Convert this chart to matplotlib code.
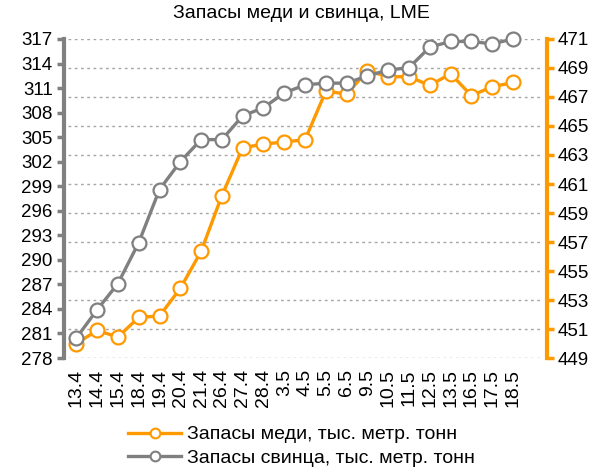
import matplotlib
matplotlib.use('Agg')
import matplotlib.pyplot as plt
from matplotlib.lines import Line2D

plt.rcParams['font.family'] = ['Liberation Sans', 'DejaVu Sans']

# даты (ось X)
dates = ['13.4', '14.4', '15.4', '18.4', '19.4', '20.4', '21.4', '26.4', '27.4', '28.4',
         '3.5', '4.5', '5.5', '6.5', '9.5', '10.5', '11.5', '12.5', '13.5', '16.5',
         '17.5', '18.5']

# запасы меди (правая ось)
copper = [450.0, 450.9, 450.45, 451.8, 451.9, 453.8, 456.35, 460.2, 463.5, 463.75,
          463.9, 464.05, 467.4, 467.2, 468.8, 468.4, 468.4, 467.8, 468.6, 467.1,
          467.7, 468.0]

# запасы свинца (левая ось)
lead = [280.45, 283.9, 287.1, 292.1, 298.6, 302.0, 304.7, 304.7, 307.6, 308.6,
        310.4, 311.4, 311.6, 311.6, 312.5, 313.2, 313.5, 316.0, 316.7, 316.7,
        316.4, 317.0]

left_ticks = list(range(278, 318, 3))
right_ticks = list(range(449, 472, 2))

ORANGE = '#FF9900'
GRAY = '#808080'

fig = plt.figure(figsize=(6.03, 4.68), dpi=100)
ax1 = fig.add_axes([0.1128, 0.235, 0.7827, 0.6817])
ax2 = ax1.twinx()
ax1.set_zorder(ax2.get_zorder() + 1)
ax1.patch.set_visible(False)

x = list(range(len(dates)))

ax2.plot(x, copper, color=ORANGE, lw=2.4, marker='o', ms=10, mfc='white',
         mec=ORANGE, mew=1.6, zorder=3, clip_on=False)
ax1.plot(x, lead, color=GRAY, lw=2.4, marker='o', ms=10, mfc='white',
         mec=GRAY, mew=1.6, zorder=3, clip_on=False)

ax1.set_xlim(-0.4, 22.3)
ax1.set_ylim(278, 317)
ax2.set_ylim(449, 471)
ax1.set_yticks(left_ticks)
ax2.set_yticks(right_ticks)
ax1.set_xticks(x)
ax1.set_xticklabels(dates, rotation=90, fontsize=14)
ax1.tick_params(axis='x', length=0, pad=8)
ax1.tick_params(axis='y', labelsize=13.5, length=5, width=2.5, color=GRAY, pad=3)
ax2.tick_params(axis='y', labelsize=13.5, length=5, width=2.5, color=ORANGE, pad=3)

ax2.yaxis.grid(True, linestyle=(0, (2, 2.5)), color='#A6A6A6', lw=1)

for a in (ax1, ax2):
    for s in ('top', 'bottom'):
        a.spines[s].set_visible(False)
ax1.spines['right'].set_visible(False)
ax2.spines['left'].set_visible(False)
ax1.spines['left'].set_color(GRAY)
ax1.spines['left'].set_linewidth(3)
ax1.spines['left'].set_position(('outward', 3))
ax2.spines['right'].set_color(ORANGE)
ax2.spines['right'].set_linewidth(3)
ax2.spines['right'].set_position(('outward', 5))

fig.suptitle('Запасы меди и свинца, LME', fontsize=14, y=0.99)

handles = [
    Line2D([], [], color=ORANGE, lw=2.4, marker='o', ms=7, mfc='white', mec=ORANGE, mew=1.5),
    Line2D([], [], color=GRAY, lw=2.4, marker='o', ms=7, mfc='white', mec=GRAY, mew=1.5),
]
fig.legend(handles, ['Запасы меди, тыс. метр. тонн', 'Запасы свинца, тыс. метр. тонн'],
           loc='lower center', bbox_to_anchor=(0.5, -0.035), frameon=False,
           fontsize=14, handlelength=2.7, handletextpad=0.3, labelspacing=0.3)

fig.savefig('out.png', dpi=100, facecolor='white')
